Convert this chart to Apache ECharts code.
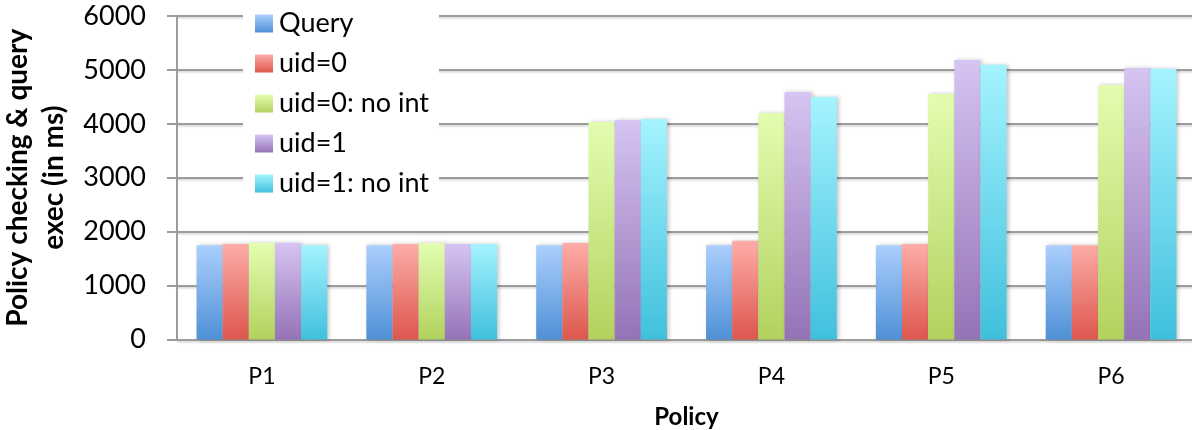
<!DOCTYPE html>
<html>
<head>
<meta charset="utf-8">
<script src="https://cdn.jsdelivr.net/npm/echarts@6/dist/echarts.min.js"></script>
<style>
  html, body { margin: 0; padding: 0; background: #fff; }
  #chart { width: 1192px; height: 430px; }
</style>
</head>
<body>
<div id="chart"></div>
<script>
// Policy checking + query execution time per policy (ms)
const categories = ['P1', 'P2', 'P3', 'P4', 'P5', 'P6'];
const seriesNames = ['Query', 'uid=0', 'uid=0: no int', 'uid=1', 'uid=1: no int'];
const queryMs     = [1750, 1750, 1750, 1750, 1750, 1750];
const uid0Ms      = [1770, 1770, 1790, 1830, 1770, 1750];
const uid0NoIntMs = [1790, 1790, 4035, 4200, 4555, 4720];
const uid1Ms      = [1795, 1770, 4070, 4590, 5185, 5035];
const uid1NoIntMs = [1750, 1770, 4090, 4500, 5095, 5020];
const yTicks = [0, 1000, 2000, 3000, 4000, 5000, 6000];

// light top -> saturated bottom, one pair per series
const gradients = [
  ['#abcffd', '#4f90d6'],
  ['#fdaca8', '#dc574d'],
  ['#e2fdb0', '#b2d25e'],
  ['#d6c4f2', '#9473b6'],
  ['#a5f3ff', '#40c0dd']
];
const values = [queryMs, uid0Ms, uid0NoIntMs, uid1Ms, uid1NoIntMs];

const gray = '#9c9c9c';
const font = 'Lato, "Liberation Sans", sans-serif';

const chart = echarts.init(document.getElementById('chart'));
chart.setOption({
  animation: false,
  textStyle: { fontFamily: font, color: '#000' },
  grid: {
    left: 177, right: -4, top: 16, bottom: 90.5,
    containLabel: false,
    outerBoundsMode: 'none'
  },
  legend: {
    orient: 'vertical',
    left: 243,
    top: 1,
    padding: [9, 10, 10, 12],
    backgroundColor: '#fff',
    itemWidth: 18,
    itemHeight: 18,
    itemGap: 13,
    icon: 'rect',
    textStyle: { fontFamily: font, fontSize: 27, color: '#000', padding: [0, 0, 0, 1] },
    data: seriesNames
  },
  xAxis: {
    type: 'category',
    data: categories,
    name: 'Policy',
    nameLocation: 'middle',
    nameGap: 66,
    nameTextStyle: { fontFamily: font, fontSize: 24, fontWeight: 'bold', color: '#000' },
    axisLine: { lineStyle: { color: gray, width: 2 } },
    axisTick: { length: 9, lineStyle: { color: gray, width: 2 } },
    axisLabel: { fontFamily: font, fontSize: 23, color: '#000', margin: 26 }
  },
  yAxis: {
    type: 'value',
    min: yTicks[0],
    max: yTicks[yTicks.length - 1],
    interval: 1000,
    name: 'Policy checking & query\nexec (in ms)',
    nameLocation: 'middle',
    nameGap: 92,
    nameRotate: 90,
    nameTextStyle: { fontFamily: font, fontSize: 28, fontWeight: 'bold', color: '#000', lineHeight: 36 },
    axisLine: { show: true, lineStyle: { color: gray, width: 2 } },
    axisTick: { show: true, length: 10, lineStyle: { color: gray, width: 2 } },
    axisLabel: {
      fontFamily: font, fontSize: 27, color: '#000', margin: 31,
      formatter: (v) => String(v)
    },
    splitLine: {
      lineStyle: {
        color: gray, width: 2,
        shadowColor: 'rgba(0,0,0,0.18)', shadowBlur: 2, shadowOffsetY: 1.5
      }
    }
  },
  series: seriesNames.map((name, i) => ({
    name: name,
    type: 'bar',
    data: values[i],
    barGap: '0%',
    barCategoryGap: '23%',
    itemStyle: {
      color: {
        type: 'linear', x: 0, y: 0, x2: 0, y2: 1,
        colorStops: [
          { offset: 0, color: gradients[i][0] },
          { offset: 1, color: gradients[i][1] }
        ]
      },
      shadowColor: 'rgba(0,0,0,0.22)',
      shadowBlur: 4,
      shadowOffsetX: 2
    }
  }))
});
</script>
</body>
</html>
